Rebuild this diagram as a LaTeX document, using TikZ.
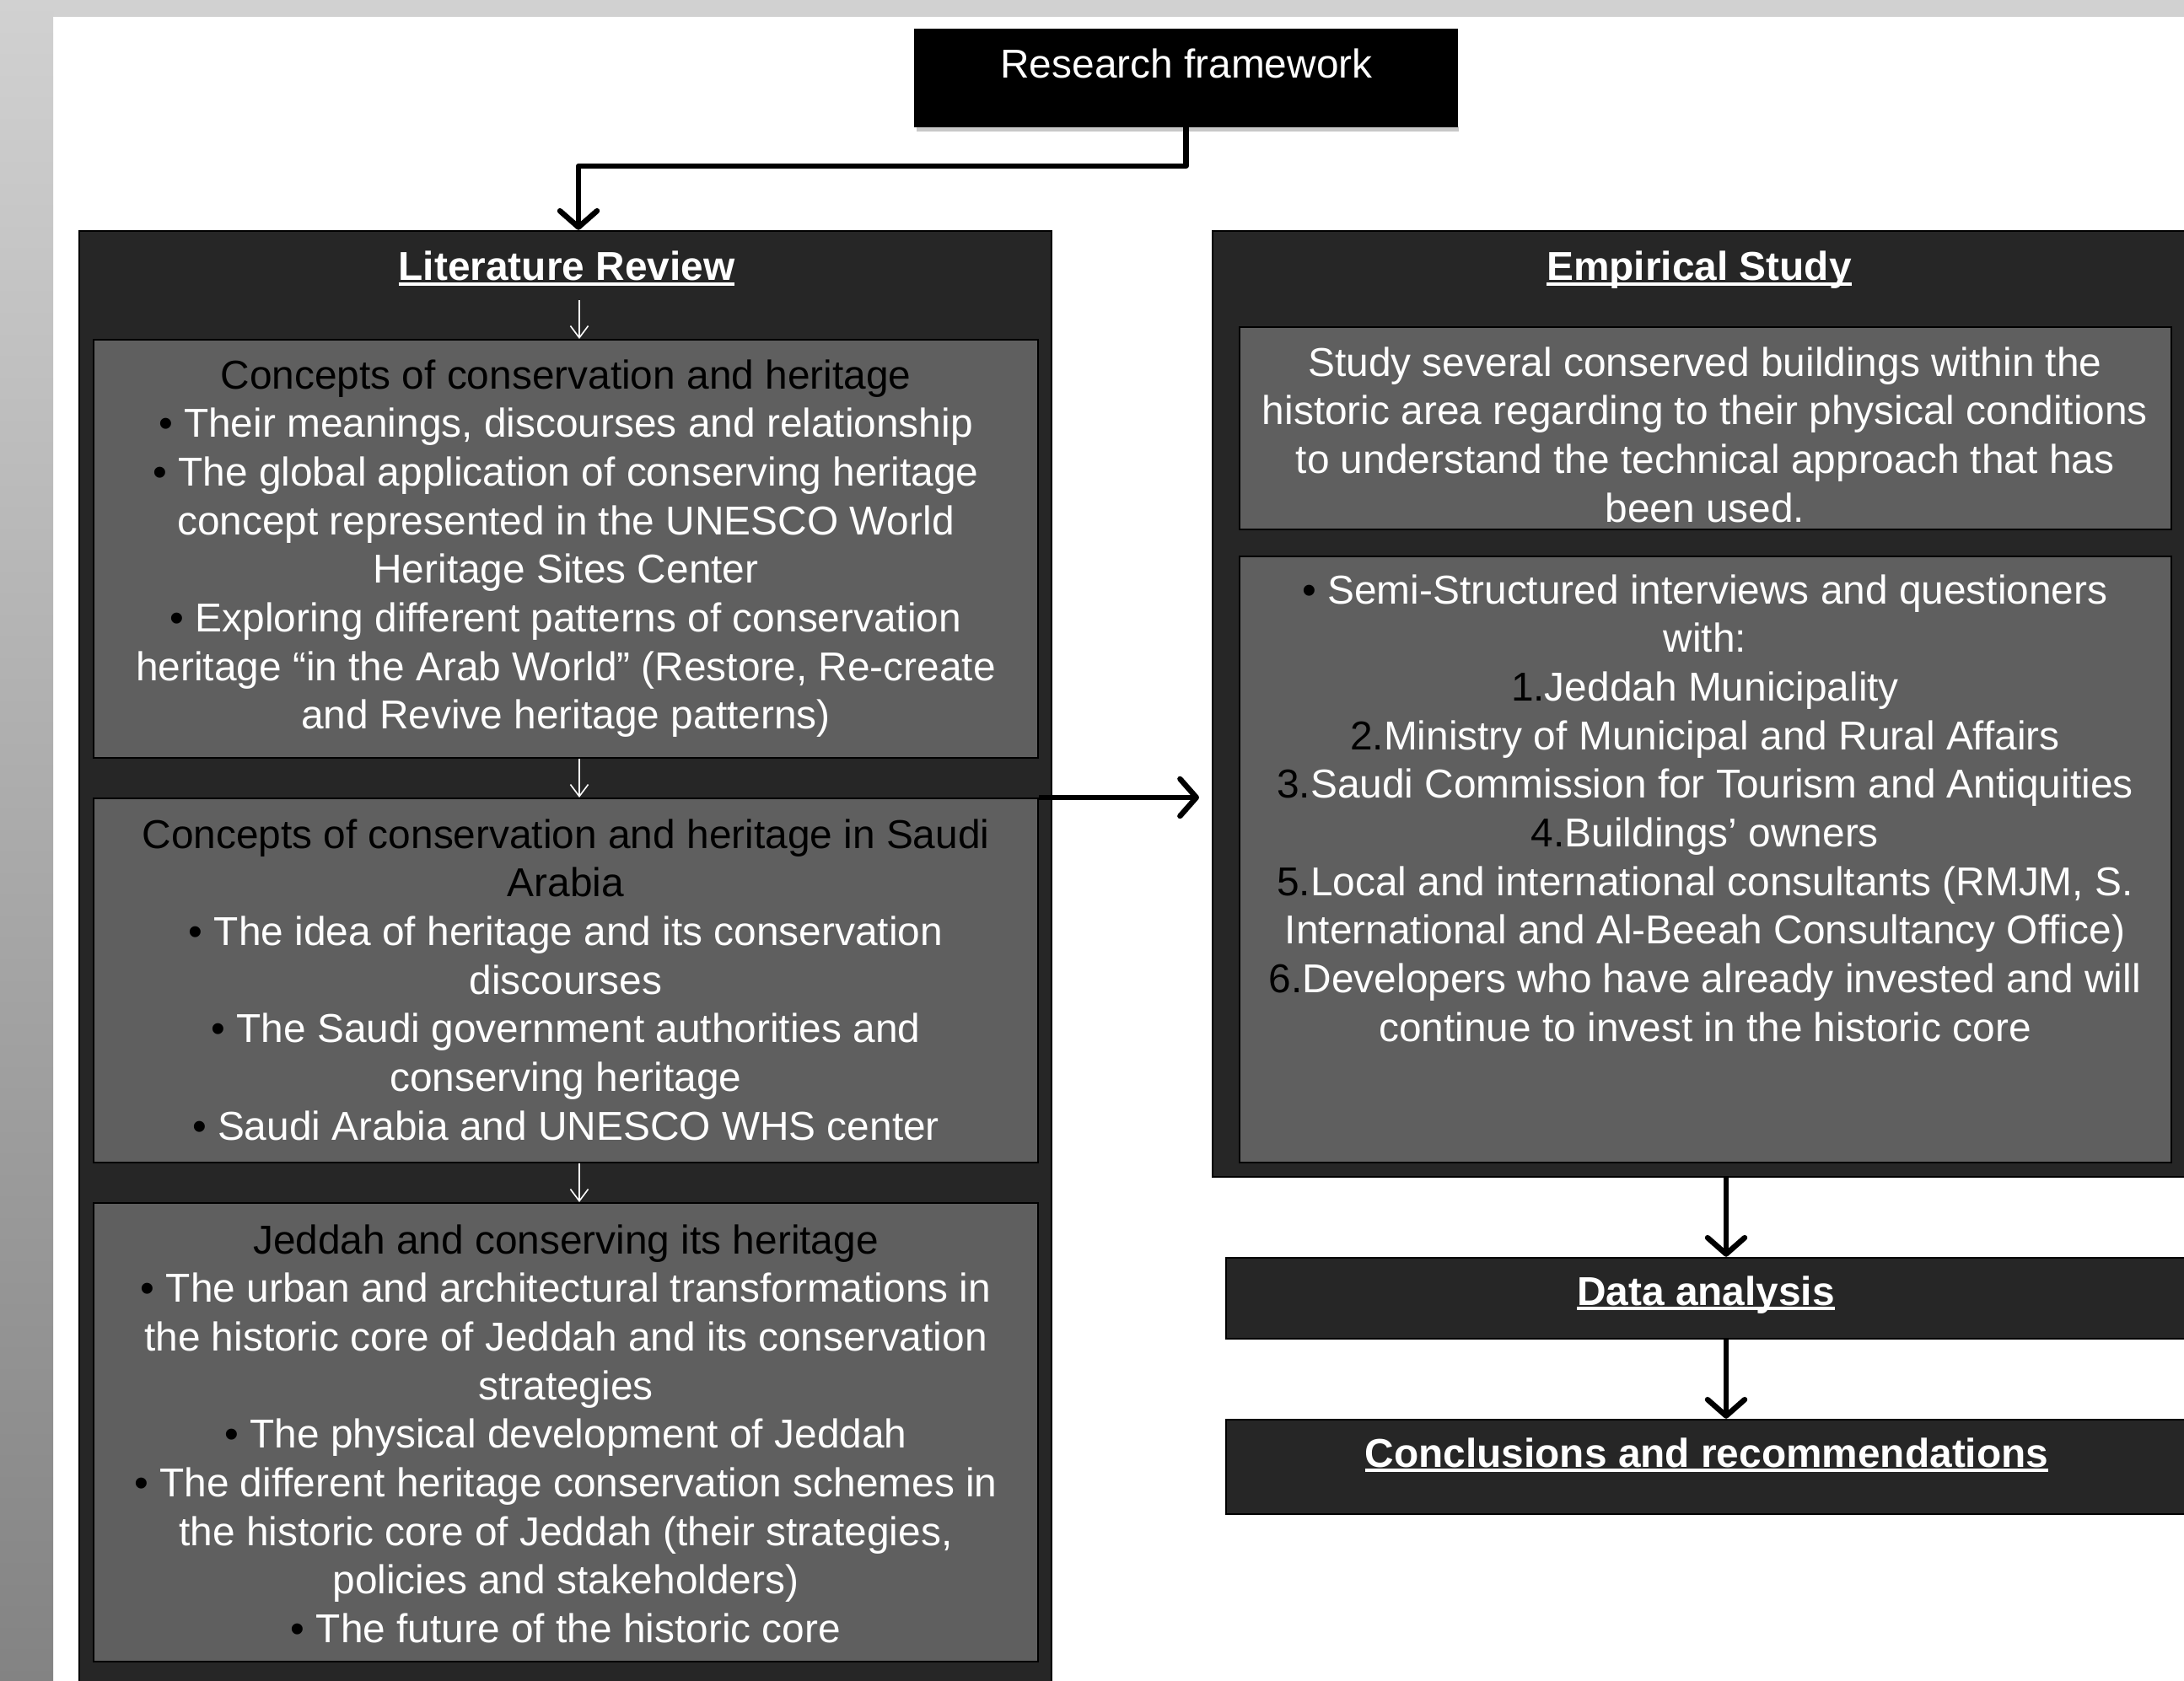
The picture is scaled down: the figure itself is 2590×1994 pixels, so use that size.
\documentclass[tikz,border=0pt]{standalone}
\usepackage{fontspec}
\setmainfont{Liberation Sans}
\usetikzlibrary{arrows.meta,fit}
\definecolor{outerc}{HTML}{262626}
\definecolor{innerc}{HTML}{5F5F5F}
\definecolor{stripc}{HTML}{D1D1D1}
\definecolor{shadowc}{HTML}{C8C8C8}
\newcommand{\bul}{\textcolor{black}{\textbullet}\ }
\newcommand{\blk}[1]{\textcolor{black}{#1}}
\newcommand{\myul}[1]{\leavevmode\setbox0=\hbox{#1}\rlap{\vrule height -0.7pt depth 1.6pt width \wd0}\box0}
\begin{document}
\begin{tikzpicture}[x=0.01cm,y=-0.01cm,
  outerbox/.style={draw=black, line width=0.7pt, fill=outerc, inner sep=0pt},
  innerbox/.style={draw=black, line width=0.6pt, fill=innerc, inner sep=0pt},
  bodytext/.style={anchor=north, inner sep=0pt, align=center, text=white, font=\fontsize{13.6}{16.4}\selectfont},
  titletext/.style={anchor=base, inner sep=0pt, text=white, font=\fontsize{13.6}{16.4}\selectfont\bfseries},
  bigarrow/.style={line width=1.85pt, line join=round, -{Straight Barb[length=5.5pt,width=12.5pt,round]}},
  smallarrow/.style={white, line width=0.45pt, -{Straight Barb[length=4pt,width=6pt]}}
]
\useasboundingbox (0,0) rectangle (2590,1994);
\clip (0,0) rectangle (2590,1994);
% background
\fill[white] (0,0) rectangle (2590,1994);
\fill[stripc] (0,0) rectangle (2590,20);
\shade[top color=stripc, bottom color={rgb,255:red,131;green,131;blue,131}] (0,0) rectangle (63,1994);

% research framework
\fill[shadowc] (1087,150) rectangle (1730,156);
\node[fit={(1085,35) (1728,150)}, fill=black, draw=black, inner sep=0pt] (rf) {};
\node[anchor=base, inner sep=0pt, text=white, font=\fontsize{13.6}{16.4}\selectfont] (rft) at (1407,93) {Research framework};

% literature review
\node[outerbox, fit={(94,274) (1247,2030)}] (lit) {};
\node[titletext] (litt) at (672,333) {\myul{Literature Review}};
\node[innerbox, fit={(111,403) (1231,899)}] (b1) {};
\node[innerbox, fit={(111,947) (1231,1379)}] (b2) {};
\node[innerbox, fit={(111,1427) (1231,1971)}] (b3) {};

\node[bodytext] (b1t) at (671,420) {\strut\blk{Concepts of conservation and heritage}\\
\bul Their meanings, discourses and relationship\\
\bul The global application of conserving heritage\\
concept represented in the UNESCO World\\
Heritage Sites Center\\
\bul Exploring different patterns of conservation\\
heritage “in the Arab World” (Restore, Re-create\\
and Revive heritage patterns)};

\node[bodytext] (b2t) at (671,965) {\strut\blk{Concepts of conservation and heritage in Saudi}\\
\blk{Arabia}\\
\bul The idea of heritage and its conservation\\
discourses\\
\bul The Saudi government authorities and\\
conserving heritage\\
\bul Saudi Arabia and UNESCO WHS center};

\node[bodytext] (b3t) at (671,1446) {\strut\blk{Jeddah and conserving its heritage}\\
\bul The urban and architectural transformations in\\
the historic core of Jeddah and its conservation\\
strategies\\
\bul The physical development of Jeddah\\
\bul The different heritage conservation schemes in\\
the historic core of Jeddah (their strategies,\\
policies and stakeholders)\\
\bul The future of the historic core};

% empirical study
\node[outerbox, fit={(1438,274) (2620,1396)}] (emp) {};
\node[titletext] (empt) at (2015,333) {\myul{Empirical Study}};
\node[innerbox, fit={(1470,388) (2575,628)}] (e1) {};
\node[innerbox, fit={(1470,660) (2575,1379)}] (e2) {};

\node[bodytext] (e1t) at (2022,405) {\strut Study several conserved buildings within the\\
historic area regarding to their physical conditions\\
to understand the technical approach that has\\
been used.};

\node[bodytext] (e2t) at (2022,675) {\strut\bul Semi-Structured interviews and questioners\\
with:\\
\blk{1.}Jeddah Municipality\\
\blk{2.}Ministry of Municipal and Rural Affairs\\
\blk{3.}Saudi Commission for Tourism and Antiquities\\
\blk{4.}Buildings’ owners\\
\blk{5.}Local and international consultants (RMJM, S.\\
International and Al-Beeah Consultancy Office)\\
\blk{6.}Developers who have already invested and will\\
continue to invest in the historic core};

% data analysis and conclusions
\node[outerbox, fit={(1454,1492) (2620,1588)}] (da) {};
\node[titletext] (dat) at (2023,1548) {\myul{Data analysis}};
\node[outerbox, fit={(1454,1684) (2620,1796)}] (cr) {};
\node[titletext] (crt) at (2024,1740) {\myul{Conclusions and recommendations}};

% connectors
\coordinate (bend) at (686,197);
\draw[bigarrow] (rf.south) |- (bend) -- (bend |- lit.north);
\coordinate (rtip) at (1422,0);
\draw[bigarrow] (b2.north east) -- (b2.north east -| rtip);
\coordinate (ax) at (2047,0);
\draw[bigarrow] (emp.south -| ax) -- (da.north -| ax);
\draw[bigarrow] (da.south -| ax) -- (cr.north -| ax);

\coordinate (s0) at (687,356);
\coordinate (sx) at (687,0);
\draw[smallarrow] (s0) -- (s0 |- b1.north);
\draw[smallarrow] (sx |- b1.south) -- (sx |- b2.north);
\draw[smallarrow] (sx |- b2.south) -- (sx |- b3.north);
\end{tikzpicture}
\end{document}
